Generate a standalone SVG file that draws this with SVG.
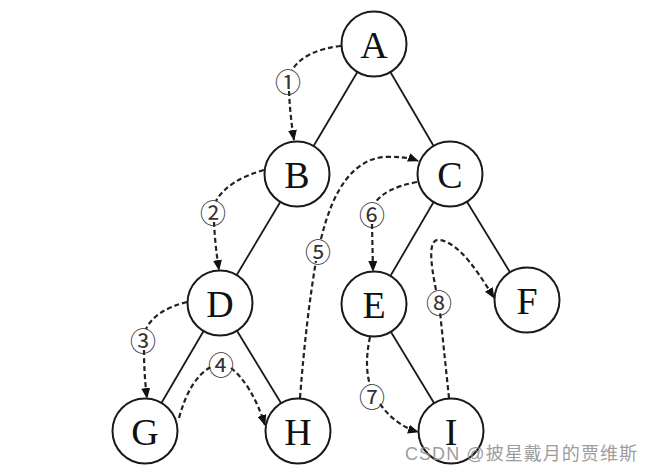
<svg xmlns="http://www.w3.org/2000/svg" width="651" height="473" viewBox="0 0 651 473">
<style>
.edge{stroke:#1a1a1a;stroke-width:1.8;fill:none}
.node circle{fill:#fff;stroke:#1a1a1a;stroke-width:2}
.node text{font-family:"Liberation Serif",serif;font-size:38px;fill:#111;text-anchor:middle;dominant-baseline:central}
.trav{stroke:#222;stroke-width:2.2;fill:none;stroke-dasharray:5 3}
.num{font-family:"Noto Sans CJK SC",sans-serif;font-size:26px;fill:#333;text-anchor:middle;dominant-baseline:central}
.wm{font-family:"Liberation Sans","Noto Sans CJK SC",sans-serif;font-size:18px;fill:#8c8c8c;opacity:0.85}
</style>
<defs>
<marker id="ah" markerUnits="userSpaceOnUse" markerWidth="11" markerHeight="9" refX="10" refY="4.5" orient="auto">
<path d="M0,0 L11,4.5 L0,9 z" fill="#111"/>
</marker>
</defs>
<rect width="651" height="473" fill="#fff"/>
<g id="connectors">
<line class="edge" x1="374" y1="44" x2="297" y2="174"/>
<line class="edge" x1="374" y1="44" x2="450" y2="174"/>
<line class="edge" x1="297" y1="174" x2="220" y2="303"/>
<line class="edge" x1="450" y1="174" x2="374" y2="304"/>
<line class="edge" x1="450" y1="174" x2="527" y2="300"/>
<line class="edge" x1="220" y1="303" x2="145" y2="431"/>
<line class="edge" x1="220" y1="303" x2="298" y2="431"/>
<line class="edge" x1="374" y1="304" x2="451" y2="431"/>
<path class="trav" d="M341,46 Q305,50 292,70"/>
<path class="trav" d="M289,91 Q290,115 294,140" marker-end="url(#ah)"/>
<path class="trav" d="M264,170 Q228,180 216,201"/>
<path class="trav" d="M214,222 Q215,245 219,270" marker-end="url(#ah)"/>
<path class="trav" d="M187,302 Q155,310 146,329"/>
<path class="trav" d="M144,350 Q144,375 147,398" marker-end="url(#ah)"/>
<path class="trav" d="M179,418 Q190,378 211,367"/>
<path class="trav" d="M231,368 Q252,385 265,425" marker-end="url(#ah)"/>
<path class="trav" d="M300,398 Q306,320 316,261"/>
<path class="trav" d="M321,239 Q340,160 385,157 Q405,156 418,161" marker-end="url(#ah)"/>
<path class="trav" d="M417,182 Q385,188 375,203"/>
<path class="trav" d="M372,224 L373,271" marker-end="url(#ah)"/>
<path class="trav" d="M370,337 Q364,365 370,385"/>
<path class="trav" d="M380,404 Q395,425 418,432" marker-end="url(#ah)"/>
<path class="trav" d="M449,398 L440,312"/>
<path class="trav" d="M436,290 C430,260 428,238 440,240 C460,243 480,275 494,298" marker-end="url(#ah)"/>
</g>
<g id="labels">
<text class="num" x="288" y="80">①</text>
<text class="num" x="213" y="211">②</text>
<text class="num" x="143" y="339">③</text>
<text class="num" x="221" y="363">④</text>
<text class="num" x="318" y="250">⑤</text>
<text class="num" x="372" y="213">⑥</text>
<text class="num" x="372" y="395">⑦</text>
<text class="num" x="439" y="301">⑧</text>
</g>
<g id="A" class="node"><circle cx="374" cy="44" r="32.5"/><text x="374" y="45">A</text></g>
<g id="B" class="node"><circle cx="297" cy="174" r="32.5"/><text x="297" y="175">B</text></g>
<g id="C" class="node"><circle cx="450" cy="174" r="32.5"/><text x="450" y="175">C</text></g>
<g id="D" class="node"><circle cx="220" cy="303" r="32.5"/><text x="220" y="304">D</text></g>
<g id="E" class="node"><circle cx="374" cy="304" r="32.5"/><text x="374" y="305">E</text></g>
<g id="F" class="node"><circle cx="527" cy="300" r="32.5"/><text x="527" y="301">F</text></g>
<g id="G" class="node"><circle cx="145" cy="431" r="32.5"/><text x="145" y="432">G</text></g>
<g id="H" class="node"><circle cx="298" cy="431" r="32.5"/><text x="298" y="432">H</text></g>
<g id="I" class="node"><circle cx="451" cy="431" r="32.5"/><text x="451" y="432">I</text></g>
<text class="wm" x="405" y="460" textLength="232" lengthAdjust="spacing">CSDN @披星戴月的贾维斯</text>
</svg>
